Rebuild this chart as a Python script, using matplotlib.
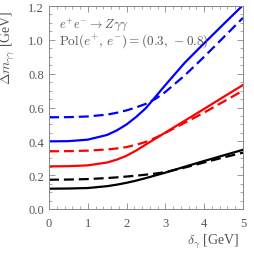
import matplotlib
matplotlib.use("Agg")
import matplotlib.pyplot as plt
from matplotlib.ticker import MultipleLocator

delta = [0.0, 0.5, 1.0, 1.5, 1.75, 2.0, 2.25, 2.5, 2.75, 3.0, 3.5, 4.0, 4.5, 5.0]

blue_solid  = [0.400, 0.401, 0.410, 0.438, 0.465, 0.500, 0.545, 0.597, 0.665, 0.733, 0.865, 0.980, 1.093, 1.205]
blue_dashed = [0.542, 0.543, 0.547, 0.558, 0.569, 0.583, 0.601, 0.622, 0.652, 0.692, 0.790, 0.900, 1.015, 1.130]
red_solid   = [0.252, 0.253, 0.258, 0.275, 0.292, 0.315, 0.346, 0.382, 0.417, 0.452, 0.522, 0.592, 0.663, 0.733]
red_dashed  = [0.341, 0.342, 0.345, 0.352, 0.358, 0.366, 0.380, 0.397, 0.422, 0.450, 0.510, 0.570, 0.635, 0.700]
black_solid = [0.120, 0.121, 0.124, 0.135, 0.144, 0.155, 0.168, 0.183, 0.199, 0.215, 0.250, 0.284, 0.317, 0.350]
black_dashed= [0.173, 0.174, 0.177, 0.183, 0.187, 0.192, 0.197, 0.203, 0.210, 0.218, 0.245, 0.275, 0.305, 0.333]

xticks = [0, 1, 2, 3, 4, 5]
yticks = [0.0, 0.2, 0.4, 0.6, 0.8, 1.0, 1.2]

plt.rcParams['font.family'] = ['Liberation Serif', 'DejaVu Serif']
plt.rcParams['mathtext.fontset'] = 'cm'

gray = '#555555'
fig = plt.figure(figsize=(2.54, 2.55), dpi=100)
ax = fig.add_axes([49/254, 1-210/255, 194/254, 203/255])

lw = 1.6
dash = (4.5, 2.2)
ax.plot(delta, blue_solid, color='#0000ff', lw=lw)
ax.plot(delta, blue_dashed, color='#0000ff', lw=lw, dashes=dash)
ax.plot(delta, red_solid, color='#ff0000', lw=lw)
ax.plot(delta, red_dashed, color='#ff0000', lw=lw, dashes=dash)
ax.plot(delta, black_solid, color='#000000', lw=lw)
ax.plot(delta, black_dashed, color='#000000', lw=lw, dashes=dash)

ax.set_xlim(0, 5)
ax.set_ylim(0, 1.2)
ax.set_xticks(xticks)
ax.set_yticks(yticks)
ax.set_xticklabels([str(t) for t in xticks])
ax.set_yticklabels([f"{t:.1f}" for t in yticks])
ax.xaxis.set_minor_locator(MultipleLocator(0.2))
ax.yaxis.set_minor_locator(MultipleLocator(0.05))
ax.tick_params(which='both', direction='in', top=True, right=True, colors='#888888',
               labelcolor=gray, labelsize=9)
ax.tick_params(axis='x', pad=6)
ax.tick_params(which='major', length=4, width=0.6)
ax.tick_params(which='minor', length=2, width=0.5)
for s in ax.spines.values():
    s.set_color('#888888')
    s.set_linewidth(0.7)

ax.set_ylabel(r'$\Delta m_{\gamma\gamma}$ [GeV]', color=gray, fontsize=10)
ax.yaxis.set_label_coords(-0.165, 0.80)
ax.set_xlabel(r'$\delta_{\gamma}$ [GeV]', color=gray, fontsize=10)
ax.xaxis.set_label_coords(0.979, -0.11)
ax.xaxis.label.set_ha('right')

ax.text(0.05, 0.955, r'$e^{+}e^{-}\rightarrow Z\gamma\gamma$', transform=ax.transAxes,
        color=gray, fontsize=9, va='top', ha='left')
ax.text(0.05, 0.875, r'$\mathrm{Pol}(e^{+},\, e^{-}) = (0.3,\, -0.8)$', transform=ax.transAxes,
        color=gray, fontsize=9.5, va='top', ha='left')

fig.savefig('out.png', dpi=100)
